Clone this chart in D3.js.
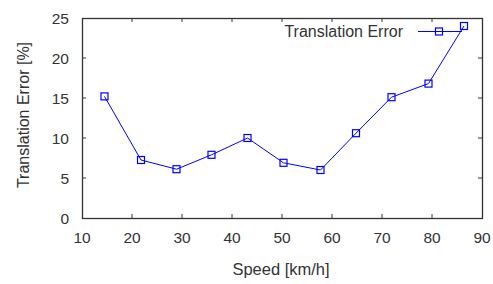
<!DOCTYPE html>
<html>
<head>
<meta charset="utf-8">
<script src="https://cdn.jsdelivr.net/npm/d3@7"></script>
<style>
  body { margin: 0; background: #fff; }
  text { font-family: "Liberation Sans", Arial, sans-serif; fill: #333; }
</style>
</head>
<body>
<svg id="chart" width="493" height="284"></svg>
<script>
const speeds = [14.5, 21.8, 28.9, 35.9, 43.1, 50.3, 57.7, 64.8, 71.9, 79.3, 86.4];
const errors = [15.2, 7.25, 6.1, 7.9, 10.0, 6.9, 6.0, 10.6, 15.1, 16.8, 24.0];
const xTicks = [10, 20, 30, 40, 50, 60, 70, 80, 90];
const yTicks = [0, 5, 10, 15, 20, 25];
const seriesName = 'Translation Error';

const svg = d3.select('#chart');
const margin = { left: 82, right: 11, top: 18, bottom: 66 };
const width = 493 - margin.left - margin.right;
const height = 284 - margin.top - margin.bottom;

const xScale = d3.scaleLinear().domain([10, 90]).range([margin.left, margin.left + width]);
const yScale = d3.scaleLinear().domain([0, 25]).range([margin.top + height, margin.top]);

const g = svg.append('g');

// inward ticks on all four sides
const tickLen = 4;
const axisColor = '#333';
g.selectAll('line.xt-bottom')
  .data(xTicks.slice(1, -1))
  .enter()
  .append('line')
  .attr('x1', (d) => xScale(d)).attr('x2', (d) => xScale(d))
  .attr('y1', yScale(0)).attr('y2', yScale(0) - tickLen)
  .attr('stroke', axisColor);
g.selectAll('line.xt-top')
  .data(xTicks.slice(1, -1))
  .enter()
  .append('line')
  .attr('x1', (d) => xScale(d)).attr('x2', (d) => xScale(d))
  .attr('y1', yScale(25)).attr('y2', yScale(25) + tickLen)
  .attr('stroke', axisColor);
g.selectAll('line.yt-left')
  .data(yTicks.slice(1, -1))
  .enter()
  .append('line')
  .attr('x1', xScale(10)).attr('x2', xScale(10) + tickLen)
  .attr('y1', (d) => yScale(d)).attr('y2', (d) => yScale(d))
  .attr('stroke', axisColor);
g.selectAll('line.yt-right')
  .data(yTicks.slice(1, -1))
  .enter()
  .append('line')
  .attr('x1', xScale(90)).attr('x2', xScale(90) - tickLen)
  .attr('y1', (d) => yScale(d)).attr('y2', (d) => yScale(d))
  .attr('stroke', axisColor);

g.append('rect')
  .attr('x', xScale(10) + 0.5)
  .attr('y', yScale(25) + 0.5)
  .attr('width', xScale(90) - xScale(10))
  .attr('height', yScale(0) - yScale(25))
  .attr('fill', 'none')
  .attr('stroke', axisColor)
  .attr('stroke-width', 1.3);

// tick labels
g.selectAll('text.xl')
  .data(xTicks)
  .enter()
  .append('text')
  .attr('x', (d) => xScale(d))
  .attr('y', 243)
  .attr('text-anchor', 'middle')
  .attr('font-size', 15.5)
  .text((d) => d);
g.selectAll('text.yl')
  .data(yTicks)
  .enter()
  .append('text')
  .attr('x', 69)
  .attr('y', (d) => yScale(d) + 5.5)
  .attr('text-anchor', 'end')
  .attr('font-size', 15.5)
  .text((d) => d);

// axis titles
g.append('text')
  .attr('x', 281)
  .attr('y', 275)
  .attr('text-anchor', 'middle')
  .attr('font-size', 16.5)
  .text('Speed [km/h]');
g.append('text')
  .attr('transform', 'translate(29,115) rotate(-90)')
  .attr('text-anchor', 'middle')
  .attr('font-size', 16)
  .text('Translation Error [%]');

// series
const blue = '#0000ff';
const line = d3.line()
  .x((d, i) => xScale(speeds[i]))
  .y((d) => yScale(d));
g.append('path')
  .datum(errors)
  .attr('d', line)
  .attr('fill', 'none')
  .attr('stroke', blue)
  .attr('stroke-width', 1);

const sq = 7;
g.selectAll('rect.pt')
  .data(errors)
  .enter()
  .append('rect')
  .attr('x', (d, i) => xScale(speeds[i]) - sq / 2)
  .attr('y', (d) => yScale(d) - sq / 2)
  .attr('width', sq)
  .attr('height', sq)
  .attr('fill', 'none')
  .attr('stroke', blue)
  .attr('stroke-width', 1.2);

// legend
const legY = 31.5;
g.append('text')
  .attr('x', 403)
  .attr('y', 36.5)
  .attr('text-anchor', 'end')
  .attr('font-size', 16)
  .text(seriesName);
g.append('line')
  .attr('x1', 418).attr('x2', 462)
  .attr('y1', legY).attr('y2', legY)
  .attr('stroke', blue);
g.append('rect')
  .attr('x', 439 - sq / 2).attr('y', legY - sq / 2)
  .attr('width', sq).attr('height', sq)
  .attr('fill', 'none')
  .attr('stroke', blue)
  .attr('stroke-width', 1.2);
</script>
</body>
</html>
